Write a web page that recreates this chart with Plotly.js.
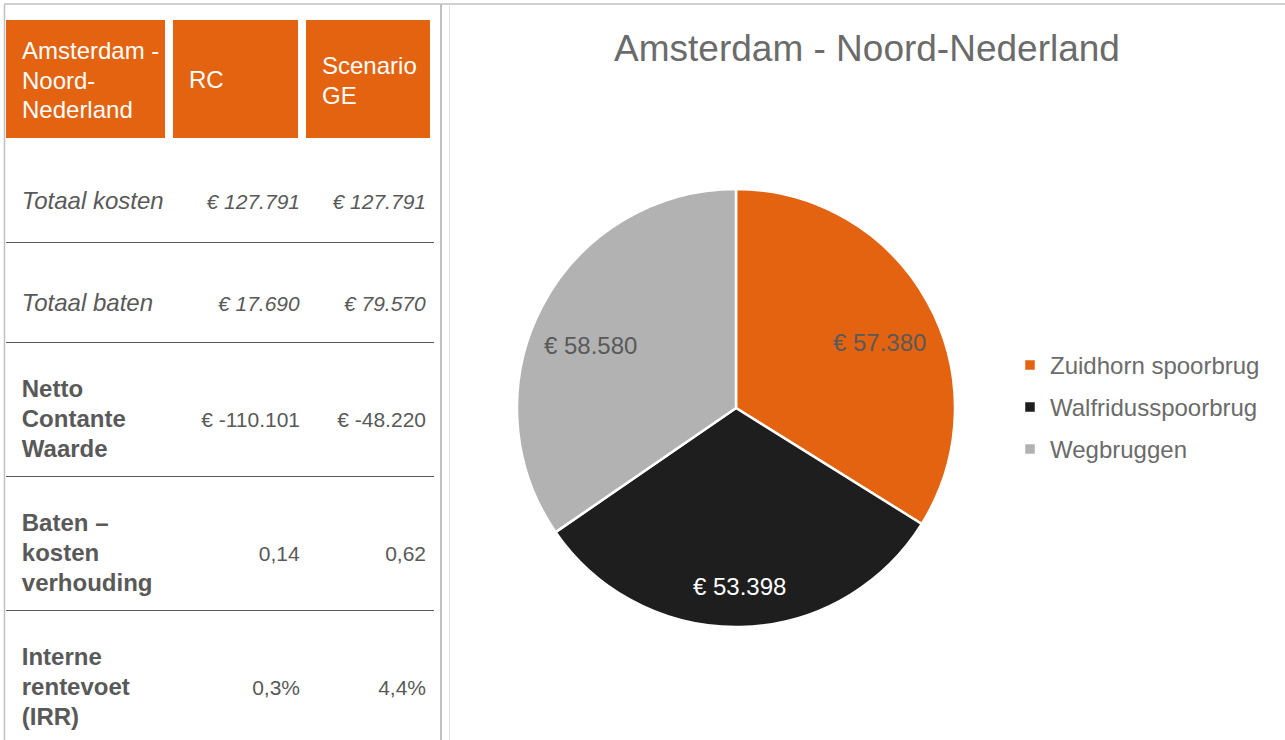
<!DOCTYPE html>
<html><head><meta charset="utf-8">
<script src="https://cdn.plot.ly/plotly-3.0.1.min.js"></script>
<style>html,body{margin:0;padding:0;background:#fff;overflow:hidden}#chart{width:1285px;height:740px}</style>
</head><body><div id="chart"></div>
<script>
// ---------------- data ----------------
const chartTitle = 'Amsterdam - Noord-Nederland';
const sliceLabels = ['Zuidhorn spoorbrug', 'Walfridusspoorbrug', 'Wegbruggen'];
const sliceValues = [57380, 53398, 58580];

const tableHeader = [['Amsterdam -', 'Noord-', 'Nederland'], ['RC'], ['Scenario', 'GE']];
const rowLabels = [['Totaal kosten'], ['Totaal baten'], ['Netto', 'Contante', 'Waarde'],
                   ['Baten –', 'kosten', 'verhouding'], ['Interne', 'rentevoet', '(IRR)']];
const rcValues = ['€ 127.791', '€ 17.690', '€ -110.101', '0,14', '0,3%'];
const geValues = ['€ 127.791', '€ 79.570', '€ -48.220', '0,62', '4,4%'];

// ---------------- style ----------------
const W = 1285, H = 740;
const FONT = 'Liberation Sans, Arial, Helvetica, sans-serif';
const ORANGE = '#E36311', DARK = '#1E1E1E', GREY = '#B2B2B2';
const TEXT = '#595959', TITLE = '#6b6b6b', RULE = '#595959';
const LABEL_PX = 24, VALUE_PX = 21;

// per-row vertical geometry (line pitch = 1.3*F, padding glyph sizes)
const rowGeom = [
  {F: 18.88, S1: 37.6, S2: 4, S3: 0, tag: 'i', valTag: 'i', valLine: 0},
  {F: 17.35, S1: 40.9, S2: 4, S3: 0, tag: 'i', valTag: 'i', valLine: 0},
  {F: 23.08, S1: 17.2, S2: 0, S3: 53.8, tag: 'b', valTag: '', valLine: 1},
  {F: 23.08, S1: 17.2, S2: 0, S3: 53.8, tag: 'b', valTag: '', valLine: 1},
  {F: 23.08, S1: 17.2, S2: 0, S3: 0, tag: 'b', valTag: '', valLine: 1}
];
const headGeom = {F: 22.69, S1: [6.7, 38.8, 23.3]};

function pad(s) { return '<span style="font-size:' + s + 'px">\u00a0</span>'; }
function txt(t, tag, size) {
  const inner = tag ? '<' + tag + '>' + t + '</' + tag + '>' : t;
  return '<span style="font-size:' + size + 'px">' + inner + '</span>';
}
// indent: number -> leading nbsp of that font size; string -> prefix inside the text span
function buildCell(lines, S1, S2, S3, tag, indent, size) {
  const out = [pad(S1)];
  lines.forEach(function (l, i) {
    let s = '';
    if (l !== '') {
      if (typeof indent === 'number' && indent) s = pad(indent) + txt(l, tag, size);
      else s = txt((indent || '') + l, tag, size);
    }
    if (i === lines.length - 1 && S3) s += pad(S3);
    out.push(s);
  });
  if (S2) out.push(pad(S2));
  return out.join('<br>');
}

// header table (orange boxes)
const headerCells = tableHeader.map(function (lines, c) {
  return buildCell(lines, headGeom.S1[c], 0, 0, '', '\u2002', LABEL_PX);
});
const headTable = {
  type: 'table',
  domain: {x: [2 / W, 434 / W], y: [1 - 250 / H, 1 - 16 / H]},
  columnwidth: [167, 133, 132],
  header: {
    values: headerCells, align: 'left', height: 126,
    fill: {color: ORANGE}, line: {color: '#ffffff', width: 8},
    font: {family: FONT, size: headGeom.F, color: '#ffffff'}
  },
  cells: {values: [[], [], []], height: 1, fill: {color: '#ffffff'}, line: {width: 0}}
};

// body table: content rows interleaved with 1px rule rows
const colLabel = [], colRC = [], colGE = [];
const fillCols = [[], [], []], sizeCols = [[], [], []];
rowLabels.forEach(function (lines, r) {
  const g = rowGeom[r];
  const valLines = [];
  for (let k = 0; k < g.valLine; k++) valLines.push('');
  colLabel.push(buildCell(lines, g.S1, g.S2, g.S3, g.tag, 28, LABEL_PX));
  colRC.push(buildCell(valLines.concat([rcValues[r]]), g.S1, g.S2, 0, g.valTag, 0, VALUE_PX));
  colGE.push(buildCell(valLines.concat([geValues[r]]), g.S1, g.S2, 0, g.valTag, 0, VALUE_PX));
  for (let c = 0; c < 3; c++) { fillCols[c].push('#ffffff'); sizeCols[c].push(g.F); }
  if (r < rowLabels.length - 1) {
    colLabel.push(''); colRC.push(''); colGE.push('');
    for (let c = 0; c < 3; c++) { fillCols[c].push(RULE); sizeCols[c].push(10); }
  }
});
const bodyTable = {
  type: 'table',
  domain: {x: [6 / W, 434 / W], y: [0, 1 - 141 / H]},
  columnwidth: [169, 133, 126],
  header: {values: ['', '', ''], height: 1, fill: {color: '#ffffff'}, line: {width: 0},
           font: {family: FONT, size: 10, color: '#ffffff'}},
  cells: {
    values: [colLabel, colRC, colGE], align: ['left', 'right', 'right'], height: 1,
    fill: {color: fillCols}, line: {color: '#ffffff', width: 0},
    font: {family: FONT, size: sizeCols, color: TEXT}
  }
};

// pie geometry (centre 736,408 ; radius 219 px)
const CX = 736, CY = 408, R = 219;
const legendLabels = sliceLabels.map(function (l) {
  return '<span style="font-size:24px;baseline-shift:3px">' + l + '</span>';
});
const pieSlices = {
  type: 'pie',
  labels: legendLabels,
  values: sliceValues,
  sort: false, direction: 'clockwise', rotation: 0,
  marker: {colors: [ORANGE, DARK, GREY], line: {color: '#ffffff', width: 2.5}},
  textinfo: 'none',
  domain: {x: [(CX - R) / W, (CX + R) / W], y: [(H - CY - R) / H, (H - CY + R) / H]},
  hoverinfo: 'label+value'
};
// same slices, transparent, ring-shaped so the value labels sit further out (as in the original)
const LBL_DY = 14;
const pieLabelsRing = {
  type: 'pie',
  labels: legendLabels,
  values: sliceValues,
  sort: false, direction: 'clockwise', rotation: 0, hole: 0.5,
  marker: {colors: ['rgba(0,0,0,0)', 'rgba(0,0,0,0)', 'rgba(0,0,0,0)'], line: {width: 0}},
  texttemplate: '€ %{value:,}', textposition: 'inside', insidetextorientation: 'horizontal',
  textfont: {family: FONT, size: 24, color: [TEXT, '#ffffff', TEXT]},
  domain: {x: [(CX - R) / W, (CX + R) / W], y: [(H - CY - LBL_DY - R) / H, (H - CY - LBL_DY + R) / H]},
  showlegend: false, hoverinfo: 'skip'
};

const layout = {
  width: W, height: H,
  margin: {l: 0, r: 0, t: 0, b: 0},
  paper_bgcolor: '#ffffff',
  separators: ',.',
  title: {text: chartTitle, x: 867 / W, xanchor: 'center', y: 1 - 48 / H, yanchor: 'middle',
          font: {family: FONT, size: 37, color: TITLE}},
  showlegend: true,
  legend: {x: 1010 / W, xanchor: 'left', y: 1 - 407 / H, yanchor: 'middle',
           font: {family: FONT, size: 30, color: TITLE}, bgcolor: 'rgba(0,0,0,0)'},
  shapes: [
    {type: 'line', xref: 'paper', yref: 'paper', x0: 4.5 / W, x1: 1, y0: 1 - 4 / H, y1: 1 - 4 / H, line: {color: '#c0c0c0', width: 1.5}},
    {type: 'line', xref: 'paper', yref: 'paper', x0: 4.5 / W, x1: 4.5 / W, y0: 0, y1: 1 - 4 / H, line: {color: '#c0c0c0', width: 1.5}},
    {type: 'line', xref: 'paper', yref: 'paper', x0: 441 / W, x1: 441 / W, y0: 0, y1: 1 - 4 / H, line: {color: '#c0c0c0', width: 2}},
    {type: 'line', xref: 'paper', yref: 'paper', x0: 449.5 / W, x1: 449.5 / W, y0: 0, y1: 1 - 5 / H, line: {color: '#e2e2e2', width: 1}}
  ]
};

Plotly.newPlot('chart', [headTable, bodyTable, pieSlices, pieLabelsRing], layout, {displayModeBar: false, staticPlot: true});
</script>
</body></html>
